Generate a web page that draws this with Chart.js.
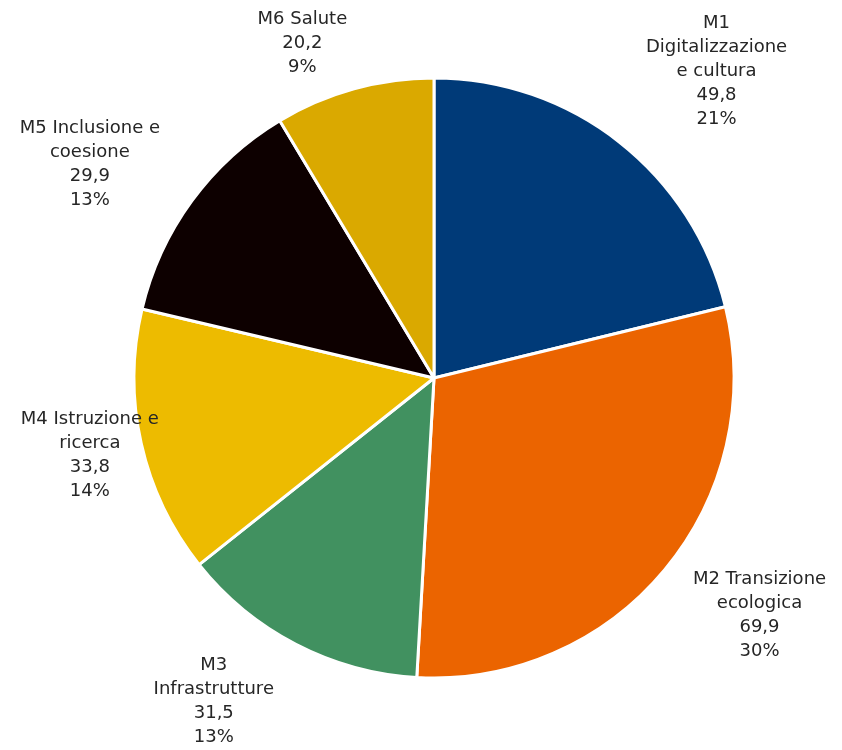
<!DOCTYPE html>
<html>
<head>
<meta charset="utf-8">
<script src="https://cdn.jsdelivr.net/npm/chart.js@4/dist/chart.umd.min.js"></script>
<style>
  html, body { margin: 0; padding: 0; background: #ffffff; }
  #wrap { width: 842px; height: 750px; position: relative; }
</style>
</head>
<body>
<div id="wrap"><canvas id="c" width="842" height="750"></canvas></div>
<script>
// ---- data ----
const categories = [
  ["M1", "Digitalizzazione", "e cultura"],
  ["M2 Transizione", "ecologica"],
  ["M3", "Infrastrutture"],
  ["M4 Istruzione e", "ricerca"],
  ["M5 Inclusione e", "coesione"],
  ["M6 Salute"]
];
const values = [49.8, 69.9, 31.5, 33.8, 29.9, 20.2];
const valueLabels = ["49,8", "69,9", "31,5", "33,8", "29,9", "20,2"];
const percentLabels = ["21%", "30%", "13%", "14%", "13%", "9%"];

// ---- styles ----
const colors = ["#003A78", "#EB6400", "#419160", "#EDBB00", "#0D0000", "#DAA900"];
const labelGap = 40;
const labelNudge = [[29, 8], [13, -11], [-36, -21], [55, -7], [-13, 15], [-29, 28]];
const fontSpec = "18px 'DejaVu Sans'";
const lineH = 24;

const labelPlugin = {
  id: 'outerLabels',
  afterDatasetsDraw(chart) {
    const ctx = chart.ctx;
    const meta = chart.getDatasetMeta(0);
    ctx.save();
    ctx.font = fontSpec;
    ctx.fillStyle = '#262626';
    ctx.textAlign = 'center';
    ctx.textBaseline = 'middle';
    meta.data.forEach((arc, i) => {
      const p = arc.getProps(['x', 'y', 'startAngle', 'endAngle', 'outerRadius'], true);
      const mid = (p.startAngle + p.endAngle) / 2;
      const ux = Math.cos(mid), uy = Math.sin(mid);
      const lines = categories[i].concat([valueLabels[i], percentLabels[i]]);
      let w = 0;
      lines.forEach(l => { w = Math.max(w, ctx.measureText(l).width); });
      const h = lines.length * lineH;
      const r = p.outerRadius + labelGap;
      const cx = p.x + ux * r + ux * w / 2 + labelNudge[i][0];
      const cy = p.y + uy * r + uy * h / 2 + labelNudge[i][1];
      lines.forEach((l, k) => {
        ctx.fillText(l, cx, cy - h / 2 + lineH / 2 + k * lineH);
      });
    });
    ctx.restore();
  }
};

new Chart(document.getElementById('c'), {
  type: 'pie',
  data: {
    labels: categories.map(c => c.join(' ')),
    datasets: [{
      data: values,
      backgroundColor: colors,
      borderColor: '#ffffff',
      borderWidth: 3,
      borderAlign: 'center'
    }]
  },
  options: {
    responsive: false,
    animation: false,
    radius: 300,
    layout: { padding: { left: 133, right: 107, top: 77, bottom: 71 } },
    plugins: {
      legend: { display: false },
      tooltip: { enabled: false }
    }
  },
  plugins: [labelPlugin]
});
</script>
</body>
</html>
